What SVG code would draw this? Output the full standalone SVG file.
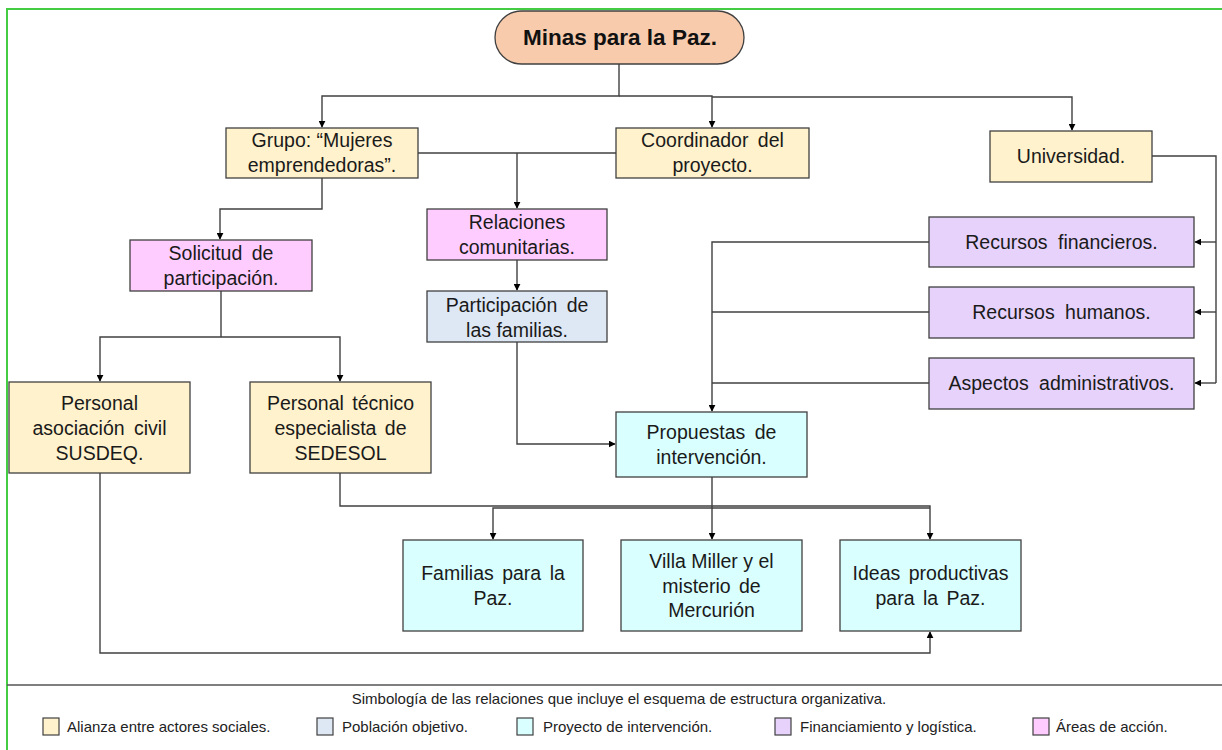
<svg xmlns="http://www.w3.org/2000/svg" width="1222" height="750" viewBox="0 0 1222 750">
<defs>
<marker id="ah" viewBox="0 0 10 10" refX="9" refY="5" markerWidth="7" markerHeight="7" markerUnits="userSpaceOnUse" orient="auto">
<path d="M0 0 L10 5 L0 10 z" fill="#000"/>
</marker>
<style>
.box{stroke:#404040;stroke-width:1.3}
.y{fill:#FFF2CC}.p{fill:#FFCCFF}.b{fill:#DEE8F4}.c{fill:#D9FFFF}.v{fill:#E6D2FA}
.t{font-family:"Liberation Sans",Arial,sans-serif;font-size:19.5px;fill:#1a1a1a;text-anchor:middle}
.ln{fill:none;stroke:#404040;stroke-width:1.4}
.arr{marker-end:url(#ah)}
.lg{font-family:"Liberation Sans",Arial,sans-serif;font-size:15px;fill:#222}
.lgs{stroke:#404040;stroke-width:1.2}
</style>
</defs>
<rect x="0" y="0" width="1222" height="750" fill="#fff"/>
<path d="M7 750 V9 H1222" fill="none" stroke="#44CC44" stroke-width="2"/>
<line x1="7" y1="685" x2="1222" y2="685" stroke="#555" stroke-width="1.5"/>

<g id="connectors">
<path class="ln arr" d="M619 64 V96 H322 V127"/>
<path class="ln arr" d="M619 96 H712 V127"/>
<path class="ln arr" d="M712 97 H1072 V130"/>
<path class="ln" d="M418 153 H616"/>
<path class="ln arr" d="M517 153 V208"/>
<path class="ln arr" d="M517 260 V290"/>
<path class="ln arr" d="M517 342 V444 H615"/>
<path class="ln arr" d="M322 178 V209 H220 V239"/>
<path class="ln" d="M221 291 V337"/>
<path class="ln arr" d="M221 337 H100 V381"/>
<path class="ln arr" d="M221 337 H340 V381"/>
<path class="ln arr" d="M340 473 V506 H930 V539"/>
<path class="ln arr" d="M712 477 V508 H493 V539"/>
<path class="ln arr" d="M712 508 V539"/>
<path class="ln" d="M712 508 H930"/>
<path class="ln arr" d="M100 473 V653 H930 V632"/>
<path class="ln" d="M1152 156 H1216 V383"/>
<path class="ln arr" d="M1216 242 H1195"/>
<path class="ln arr" d="M1216 312 H1195"/>
<path class="ln arr" d="M1216 383 H1195"/>
<path class="ln arr" d="M929 242 H712 V411"/>
<path class="ln" d="M929 312 H712"/>
<path class="ln" d="M929 383 H712"/>
</g>

<g id="minas">
<rect x="495" y="11" width="249" height="53" rx="26.5" fill="#F8CBAD" stroke="#404040" stroke-width="1.3"/>
<text x="620" y="45" style="font-family:'Liberation Sans',Arial,sans-serif;font-size:22.5px;font-weight:bold;text-anchor:middle;fill:#111">Minas para la Paz.</text>
</g>
<g id="grupo">
<rect class="box y" x="226" y="128" width="192" height="50"/>
<text class="t" x="322" y="147">Grupo: “Mujeres</text>
<text class="t" x="322" y="172">emprendedoras”.</text>
</g>
<g id="coordinador">
<rect class="box y" x="616" y="128" width="193" height="50"/>
<text class="t" x="712.5" y="147" word-spacing="4">Coordinador del</text>
<text class="t" x="712.5" y="172">proyecto.</text>
</g>
<g id="universidad">
<rect class="box y" x="990" y="131" width="162" height="51"/>
<text class="t" x="1071" y="163">Universidad.</text>
</g>
<g id="relaciones">
<rect class="box p" x="427" y="209" width="180" height="51"/>
<text class="t" x="517" y="229">Relaciones</text>
<text class="t" x="517" y="254">comunitarias.</text>
</g>
<g id="participacion">
<rect class="box b" x="427" y="291" width="180" height="51"/>
<text class="t" x="517" y="311.5" word-spacing="4">Participación de</text>
<text class="t" x="517" y="336.5">las familias.</text>
</g>
<g id="solicitud">
<rect class="box p" x="130" y="240" width="182" height="51"/>
<text class="t" x="221" y="260" word-spacing="4">Solicitud de</text>
<text class="t" x="221" y="285">participación.</text>
</g>
<g id="susdeq">
<rect class="box y" x="9" y="382" width="181" height="91"/>
<text class="t" x="99.5" y="410">Personal</text>
<text class="t" x="99.5" y="435" word-spacing="4">asociación civil</text>
<text class="t" x="99.5" y="460">SUSDEQ.</text>
</g>
<g id="sedesol">
<rect class="box y" x="250" y="382" width="181" height="91"/>
<text class="t" x="340.5" y="410" word-spacing="3">Personal técnico</text>
<text class="t" x="340.5" y="435" word-spacing="3">especialista de</text>
<text class="t" x="340.5" y="460">SEDESOL</text>
</g>
<g id="propuestas">
<rect class="box c" x="616" y="412" width="191" height="65"/>
<text class="t" x="711.5" y="439" word-spacing="4">Propuestas de</text>
<text class="t" x="711.5" y="464">intervención.</text>
</g>
<g id="familias">
<rect class="box c" x="403" y="540" width="180" height="91"/>
<text class="t" x="493" y="580" word-spacing="3">Familias para la</text>
<text class="t" x="493" y="605">Paz.</text>
</g>
<g id="villa">
<rect class="box c" x="621" y="540" width="181" height="91"/>
<text class="t" x="711.5" y="568">Villa Miller y el</text>
<text class="t" x="711.5" y="593" word-spacing="3">misterio de</text>
<text class="t" x="711.5" y="617">Mercurión</text>
</g>
<g id="ideas">
<rect class="box c" x="840" y="540" width="181" height="91"/>
<text class="t" x="930.5" y="580" word-spacing="3">Ideas productivas</text>
<text class="t" x="930.5" y="605" word-spacing="3">para la Paz.</text>
</g>
<g id="rfinancieros">
<rect class="box v" x="929" y="217" width="265" height="50"/>
<text class="t" x="1061.5" y="249" word-spacing="5">Recursos financieros.</text>
</g>
<g id="rhumanos">
<rect class="box v" x="929" y="287" width="265" height="51"/>
<text class="t" x="1061.5" y="319" word-spacing="5">Recursos humanos.</text>
</g>
<g id="aspectos">
<rect class="box v" x="929" y="358" width="265" height="51"/>
<text class="t" x="1061.5" y="390" word-spacing="5">Aspectos administrativos.</text>
</g>

<g id="legend">
<text x="619" y="704" style="font-family:'Liberation Sans',Arial,sans-serif;font-size:15px;fill:#222;text-anchor:middle">Simbología de las relaciones que incluye el esquema de estructura organizativa.</text>
<rect class="lgs y" x="43" y="718" width="16" height="17"/>
<text class="lg" x="67" y="732">Alianza entre actores sociales.</text>
<rect class="lgs b" x="317" y="718" width="16" height="17"/>
<text class="lg" x="342" y="732">Población objetivo.</text>
<rect class="lgs c" x="517" y="718" width="16" height="17"/>
<text class="lg" x="543" y="732">Proyecto de intervención.</text>
<rect class="lgs v" x="775" y="718" width="16" height="17"/>
<text class="lg" x="800" y="732">Financiamiento y logística.</text>
<rect class="lgs p" x="1033" y="718" width="16" height="17"/>
<text class="lg" x="1056" y="732">Áreas de acción.</text>
</g>
</svg>
